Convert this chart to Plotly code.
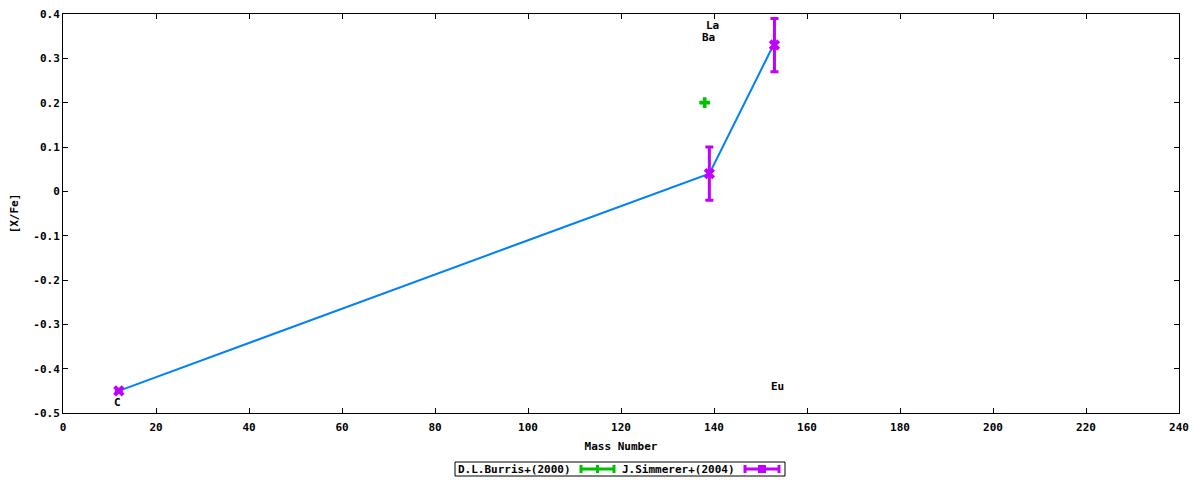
import plotly.graph_objects as go

# ---- data ----
line_x = [12, 139, 152.3]
line_y = [-0.45, 0.04, 0.32]

burris_x = [138]
burris_y = [0.2]

simmerer_x = [12, 139, 153]
simmerer_y = [-0.45, 0.04, 0.33]
simmerer_err = [0.0, 0.06, 0.06]

label_text = ["C", "Ba", "La", "Eu"]
label_x = [11.7, 138.8, 139.6, 153.6]
label_y = [-0.477, 0.346, 0.373, -0.441]

xtick_vals = [0, 20, 40, 60, 80, 100, 120, 140, 160, 180, 200, 220, 240]
ytick_vals = [-0.5, -0.4, -0.3, -0.2, -0.1, 0, 0.1, 0.2, 0.3, 0.4]
ytick_text = ["-0.5", "-0.4", "-0.3", "-0.2", "-0.1", "0", "0.1", "0.2", "0.3", "0.4"]

legend_names = ["D.L.Burris+(2000)", "J.Simmerer+(2004)"]

# ---- style ----
OFF = 8  # page body margin
W, H = 1192, 472
ML, MR, MT, MB = 55, 21, 6, 67
BLUE = "#0080ff"
GREEN = "#00c000"
PURPLE = "#c000ff"
FONT = dict(family="DejaVu Sans Mono", size=11, color="black", weight="bold")


def px(x):
    # reference-window pixel -> paper coordinate
    return (x - OFF - ML) / (W - ML - MR)


def py(y):
    return (H - MB - (y - OFF)) / (H - MT - MB)


fig = go.Figure()

fig.add_trace(go.Scatter(x=line_x, y=line_y, mode="lines",
                         line=dict(color=BLUE, width=2), showlegend=False,
                         hoverinfo="skip"))
fig.add_trace(go.Scatter(x=burris_x, y=burris_y, mode="markers",
                         marker=dict(symbol="cross", size=9, color=GREEN),
                         name=legend_names[0], showlegend=False))
fig.add_trace(go.Scatter(x=simmerer_x, y=simmerer_y, mode="markers",
                         marker=dict(symbol="x", size=10, color=PURPLE),
                         error_y=dict(type="data", array=simmerer_err, visible=True,
                                      color=PURPLE, thickness=3, width=4),
                         name=legend_names[1], showlegend=False))

for t, x, y in zip(label_text, label_x, label_y):
    fig.add_annotation(x=x, y=y, text=t, showarrow=False, font=FONT,
                       xanchor="center", yanchor="middle")

# ---- custom gnuplot-style legend ----
shapes = []
shapes.append(dict(type="rect", xref="paper", yref="paper",
                   x0=px(455), x1=px(785), y0=py(476), y1=py(462),
                   line=dict(color="black", width=1), fillcolor="white"))
ly = 469
for (x0, x1, col, kind) in [(580, 615, GREEN, "plus"), (744, 780, PURPLE, "x")]:
    shapes.append(dict(type="line", xref="paper", yref="paper",
                       x0=px(x0), x1=px(x1), y0=py(ly), y1=py(ly),
                       line=dict(color=col, width=3)))
    for xc in (x0 + 1, x1 - 1):
        shapes.append(dict(type="line", xref="paper", yref="paper",
                           x0=px(xc), x1=px(xc), y0=py(ly - 4), y1=py(ly + 4),
                           line=dict(color=col, width=3)))
    xm = (x0 + x1) / 2
    if kind == "plus":
        shapes.append(dict(type="line", xref="paper", yref="paper",
                           x0=px(xm), x1=px(xm), y0=py(ly - 4), y1=py(ly + 4),
                           line=dict(color=col, width=3)))
    else:
        shapes.append(dict(type="rect", xref="paper", yref="paper",
                           x0=px(xm - 4), x1=px(xm + 4), y0=py(ly + 4), y1=py(ly - 4),
                           line=dict(color=col, width=0), fillcolor=col))

fig.add_annotation(x=px(456), y=py(ly), xref="paper", yref="paper",
                   text=legend_names[0], showarrow=False, font=FONT,
                   xanchor="left", yanchor="middle")
fig.add_annotation(x=px(620), y=py(ly), xref="paper", yref="paper",
                   text=legend_names[1], showarrow=False, font=FONT,
                   xanchor="left", yanchor="middle")

fig.update_layout(
    width=W, height=H,
    margin=dict(l=ML, r=MR, t=MT, b=MB, autoexpand=False),
    paper_bgcolor="white", plot_bgcolor="white",
    font=FONT,
    shapes=shapes,
    showlegend=False,
    xaxis=dict(range=[0, 240], tickvals=xtick_vals, ticks="inside", ticklen=5,
               tickcolor="black", showgrid=False, zeroline=False,
               showline=True, linecolor="black", linewidth=1, mirror="ticks",
               ticklabelstandoff=4, automargin=False, ticklabeloverflow="allow",
               title=dict(text="Mass Number", font=FONT, standoff=9),
               tickfont=FONT),
    yaxis=dict(range=[-0.5, 0.4], tickvals=ytick_vals, ticktext=ytick_text,
               ticks="inside", ticklen=5, tickcolor="black", showgrid=False,
               zeroline=False, showline=True, linecolor="black", linewidth=1,
               mirror="ticks", automargin=False, ticklabeloverflow="allow",
               title=dict(text="[X/Fe]", font=FONT, standoff=16),
               tickfont=FONT),
)

fig.write_html("out.html")
